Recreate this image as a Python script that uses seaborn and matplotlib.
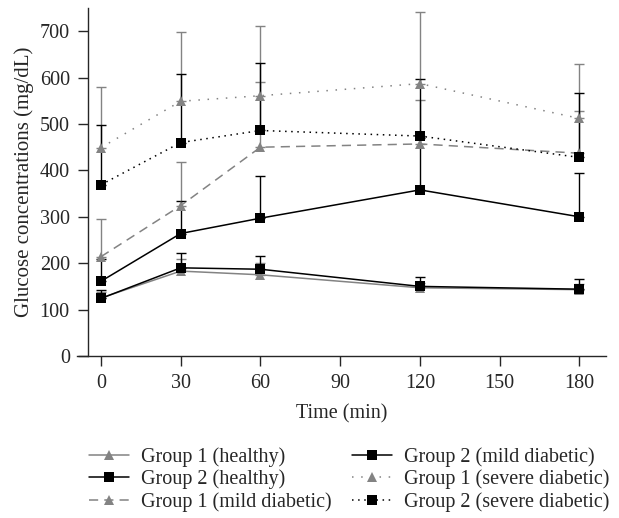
import pandas as pd
import seaborn as sns
from matplotlib import pyplot as plt
from matplotlib.lines import Line2D

# Data
time = [0, 30, 60, 120, 180]
series = ['Group 1 (healthy)', 'Group 2 (healthy)', 'Group 1 (mild diabetic)',
          'Group 2 (mild diabetic)', 'Group 1 (severe diabetic)', 'Group 2 (severe diabetic)']

g1_healthy = [125, 183, 175, 147, 143]
g1_healthy_err = [12, 26, 25, 10, 13]
g2_healthy = [124, 190, 187, 150, 144]
g2_healthy_err = [19, 32, 28, 20, 21]
g1_mild = [214, 324, 450, 457, 437]
g1_mild_err = [82, 95, 140, 94, 91]
g2_mild = [161, 264, 297, 358, 300]
g2_mild_err = [47, 70, 90, 112, 95]
g1_severe = [449, 549, 561, 587, 512]
g1_severe_err = [131, 149, 151, 154, 117]
g2_severe = [369, 460, 486, 474, 428]
g2_severe_err = [129, 147, 145, 122, 139]

means = [g1_healthy, g2_healthy, g1_mild, g2_mild, g1_severe, g2_severe]
errs = [g1_healthy_err, g2_healthy_err, g1_mild_err, g2_mild_err, g1_severe_err, g2_severe_err]

gray = '#838383'
colors = [gray, 'black', gray, 'black', gray, 'black']
marker_list = ['^', 's', '^', 's', '^', 's']
dash_list = ['', '', (6, 4), '', (1, 5), (1, 3)]

rows = []
for name, vals in zip(series, means):
    for t, v in zip(time, vals):
        rows.append({'Time': t, 'Glucose': v, 'Series': name})
df = pd.DataFrame(rows)

sns.set_style('ticks')
plt.rcParams['font.family'] = ['Liberation Serif', 'DejaVu Serif']
fs = 14.5

fig = plt.figure(figsize=(6.19, 5.18), dpi=100)
ax = fig.add_axes([77 / 619, 1 - 356 / 518, (606 - 77) / 619, (356 - 8) / 518])

# one-sided (upper) error bars
for vals, err, c in zip(means, errs, colors):
    ax.errorbar(time, vals, yerr=[[0] * len(err), err], fmt='none', ecolor=c,
                elinewidth=1.0, capsize=3.6, capthick=1.0, zorder=2)

sns.lineplot(data=df, x='Time', y='Glucose', hue='Series', style='Series',
             hue_order=series, style_order=series,
             palette=dict(zip(series, colors)),
             markers=dict(zip(series, marker_list)),
             dashes=dict(zip(series, dash_list)),
             markersize=7, markeredgewidth=0, linewidth=1.1,
             legend=False, ax=ax, zorder=3)

ax.set_xlim(-9, 190)
ax.set_ylim(0, 750)
ax.set_xticks([0, 30, 60, 90, 120, 150, 180])
ax.set_yticks(range(0, 701, 100))
ax.spines['left'].set_position(('data', -4.9))
ax.spines['right'].set_visible(False)
ax.spines['top'].set_visible(False)
for sp in ['left', 'bottom']:
    ax.spines[sp].set_linewidth(1.0)
ax.tick_params(axis='both', direction='out', length=7, width=1.0, labelsize=fs, pad=6)
ax.set_xlabel('Time (min)', fontsize=fs, labelpad=8)
ax.set_ylabel('Glucose concentrations (mg/dL)', fontsize=15, labelpad=4)

handles = [Line2D([], [], color=c, marker=m, markersize=6.5, markeredgewidth=0,
                  linestyle='-' if d == '' else (0, d), linewidth=1.1)
           for c, m, d in zip(colors, marker_list, dash_list)]
ax.legend(handles, series, ncol=2, loc='upper center', bbox_to_anchor=(0.515, -0.24),
          frameon=False, fontsize=fs, handlelength=2.0, columnspacing=1.0,
          labelspacing=0.12, handletextpad=0.6, borderaxespad=0)

fig.savefig('out.png', dpi=100)
